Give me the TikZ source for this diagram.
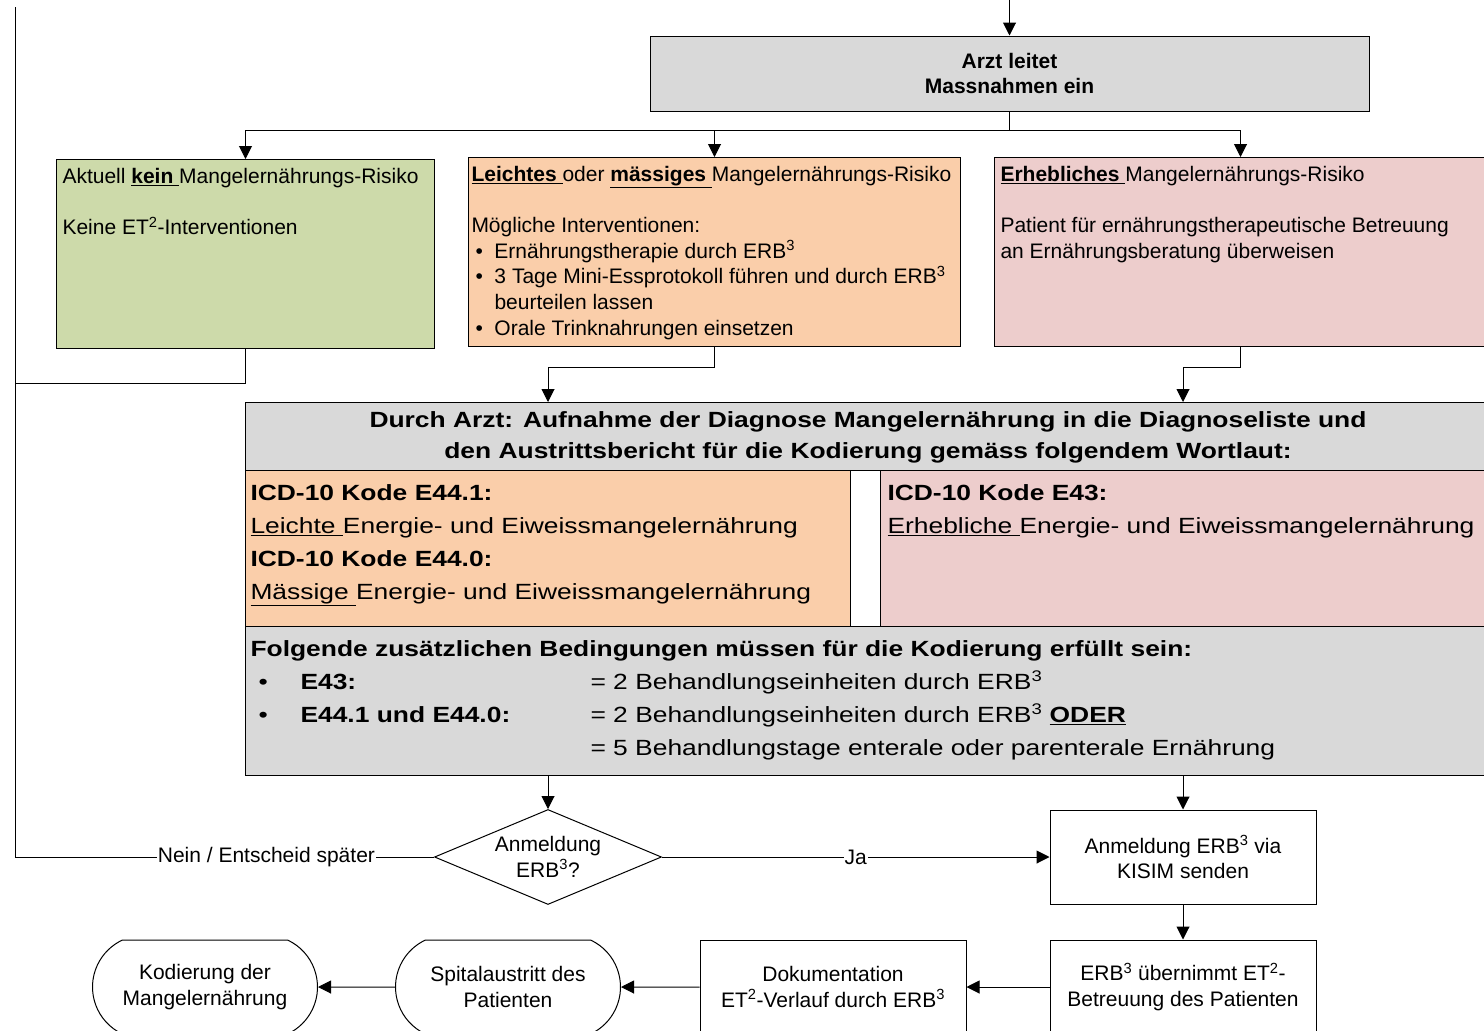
\documentclass[tikz,border=0pt]{standalone}
\usepackage{fontspec}
\setmainfont{Liberation Sans}
\newfontfamily\widesans[FakeStretch=1.2]{Liberation Sans}
\usetikzlibrary{arrows.meta, shapes.geometric, shapes.misc}
\definecolor{boxgray}{RGB}{217,217,217}
\definecolor{lowrisk}{RGB}{205,218,170}
\definecolor{midrisk}{RGB}{250,206,170}
\definecolor{highrisk}{RGB}{237,205,204}
\newcommand{\boxfont}{\fontsize{21}{25.6}\selectfont}
\newcommand{\codefont}{\widesans\fontsize{22}{33}\selectfont}
\newcommand{\ERBthree}{ERB\textsuperscript{3}}
\newcommand{\ETtwo}{ET\textsuperscript{2}}
\newcommand{\itm}{\hspace*{4pt}\makebox[19pt][l]{\textbullet}}

\begin{document}
\begin{tikzpicture}[x=1pt, y=-1pt, line width=1pt,
    arr/.style={-{Triangle[length=13pt, width=13pt]}},
    riskbox/.style={draw, anchor=north west, minimum width=#1, minimum height=189pt, inner sep=0pt},
    cell/.style={draw, anchor=north west, minimum height=156pt, inner sep=0pt},
    txt/.style={anchor=north west, align=left, inner sep=0pt},
    flowbox/.style={draw, minimum width=266pt, minimum height=94pt, align=center, font=\boxfont},
    endbox/.style={draw, rounded rectangle, rounded rectangle arc length=130, inner xsep=1pt, minimum width=227pt, minimum height=94pt, align=center, font=\boxfont},
    lbl/.style={fill=white, inner sep=1pt, font=\boxfont}]
    \useasboundingbox (0,0) rectangle (1484,1031);
    \clip (0,0) rectangle (1484,1031);

    \node (arzt) [draw, fill=boxgray, minimum width=719pt, minimum height=75pt, align=center, font=\boxfont\bfseries] at (1009.5,73.5) {Arzt leitet\\Massnahmen ein};
    \coordinate (entry) at (1009.5,0);
    \coordinate (split) at (1009.5,130);

    \node (low) [riskbox=378pt, fill=lowrisk] at (56,159) {};
    \node (mid) [riskbox=492pt, fill=midrisk] at (468,157) {};
    \node (high) [riskbox=492pt, fill=highrisk] at (994,157) {};
    \node (lowtxt) [txt, font=\boxfont] at ([xshift=6pt]low.north west) {\rule{0pt}{24pt}Aktuell \underline{\textbf{kein }}Mangelernährungs-Risiko\\[25.6pt]
        Keine \ETtwo-Interventionen};
    \node (midtxt) [txt, font=\boxfont] at ([xshift=3pt]mid.north west) {\rule{0pt}{24pt}\underline{\textbf{Leichtes }}oder \underline{\textbf{mässiges }}Mangelernährungs-Risiko\\[25.6pt]
        Mögliche Interventionen:\\
        \itm Ernährungstherapie durch \ERBthree\\
        \itm 3 Tage Mini-Essprotokoll führen und durch \ERBthree\\
        \hspace*{23pt}beurteilen lassen\\
        \itm Orale Trinknahrungen einsetzen};
    \node (hightxt) [txt, font=\boxfont] at ([xshift=6pt]high.north west) {\rule{0pt}{24pt}\underline{\textbf{Erhebliches }}Mangelernährungs-Risiko\\[25.6pt]
        Patient für ernährungstherapeutische Betreuung\\
        an Ernährungsberatung überweisen};

    \node (diag) [draw, fill=boxgray, anchor=north west, minimum width=1245pt, minimum height=373pt, inner sep=0pt] at (245,402) {};
    \node (head) [anchor=north, align=center, inner sep=0pt, font=\codefont\bfseries] at (diag.north) {\rule{0pt}{25pt}Durch Arzt: Aufnahme der Diagnose Mangelernährung in die Diagnoseliste und\\[-2pt]
        den Austrittsbericht für die Kodierung gemäss folgendem Wortlaut:};
    \node (lowcode) [cell, fill=midrisk, minimum width=605pt] at (245,470) {};
    \node (gap) [cell, fill=white, minimum width=30pt] at (850,470) {};
    \node (highcode) [cell, fill=highrisk, minimum width=610pt] at (880,470) {};
    \node (lowcodetxt) [txt, font=\codefont] at ([xshift=5pt]lowcode.north west) {\rule{0pt}{30pt}\textbf{ICD-10 Kode E44.1:}\\
        \underline{Leichte }Energie- und Eiweissmangelernährung\\
        \textbf{ICD-10 Kode E44.0:}\\
        \underline{Mässige }Energie- und Eiweissmangelernährung};
    \node (highcodetxt) [txt, font=\codefont] at ([xshift=7pt]highcode.north west) {\rule{0pt}{30pt}\textbf{ICD-10 Kode E43:}\\
        \underline{Erhebliche }Energie- und Eiweissmangelernährung};
    \node (rules) [txt, font=\codefont] at ([xshift=5pt]lowcode.south west) {\rule{0pt}{29pt}\textbf{Folgende zusätzlichen Bedingungen müssen für die Kodierung erfüllt sein:}\\
        \hspace*{8pt}\makebox[42pt][l]{\textbullet}\makebox[290pt][l]{\textbf{E43:}}= 2 Behandlungseinheiten durch \ERBthree\\
        \hspace*{8pt}\makebox[42pt][l]{\textbullet}\makebox[290pt][l]{\textbf{E44.1 und E44.0:}}= 2 Behandlungseinheiten durch \ERBthree{} \underline{\textbf{ODER}}\\
        \hspace*{340pt}= 5 Behandlungstage enterale oder parenterale Ernährung};

    \node (ask) [draw, diamond, aspect=2.4, inner sep=0pt, minimum width=227pt, minimum height=95pt, align=center, font=\boxfont] at (548,857) {Anmeldung\\\ERBthree?};
    \node (send) [flowbox] at (1183,857) {Anmeldung \ERBthree{} via\\KISIM senden};
    \node (care) [flowbox] at (1183,987) {\ERBthree{} übernimmt \ETtwo-\\Betreuung des Patienten};
    \node (doku) [flowbox] at (833,987) {Dokumentation\\\ETtwo-Verlauf durch \ERBthree};
    \node (exit) [endbox] at (508,987) {Spitalaustritt des\\Patienten};
    \node (kod) [endbox] at (205,987) {Kodierung der\\Mangelernährung};
    \coordinate (looptop) at (15,7);
    \coordinate (loopjoin) at (15,383);
    \coordinate (loopturn) at (15,857);

    \draw [arr] (entry) -- (arzt);
    \draw (arzt) -- (split);
    \foreach \risk in {low, mid, high}
        \draw [arr] (split) -| (\risk.north);
    \draw (low.south) |- (loopjoin);
    \draw [arr] (mid.south) -- ++(0,20) -| (ask |- diag.north);
    \draw [arr] (high.south) -- ++(0,20) -| (send |- diag.north);
    \draw [arr] (diag.south -| ask) -- (ask);
    \draw [arr] (diag.south -| send) -- (send);
    \draw (ask) -- node [lbl, pos=0.4] {Nein / Entscheid später} (loopturn) -- (looptop);
    \draw [arr] (ask) -- node [lbl] {Ja} (send);
    \draw [arr] (send) -- (care);
    \draw [arr] (care) -- (doku);
    \draw [arr] (doku) -- (exit);
    \draw [arr] (exit) -- (kod);
\end{tikzpicture}
\end{document}
